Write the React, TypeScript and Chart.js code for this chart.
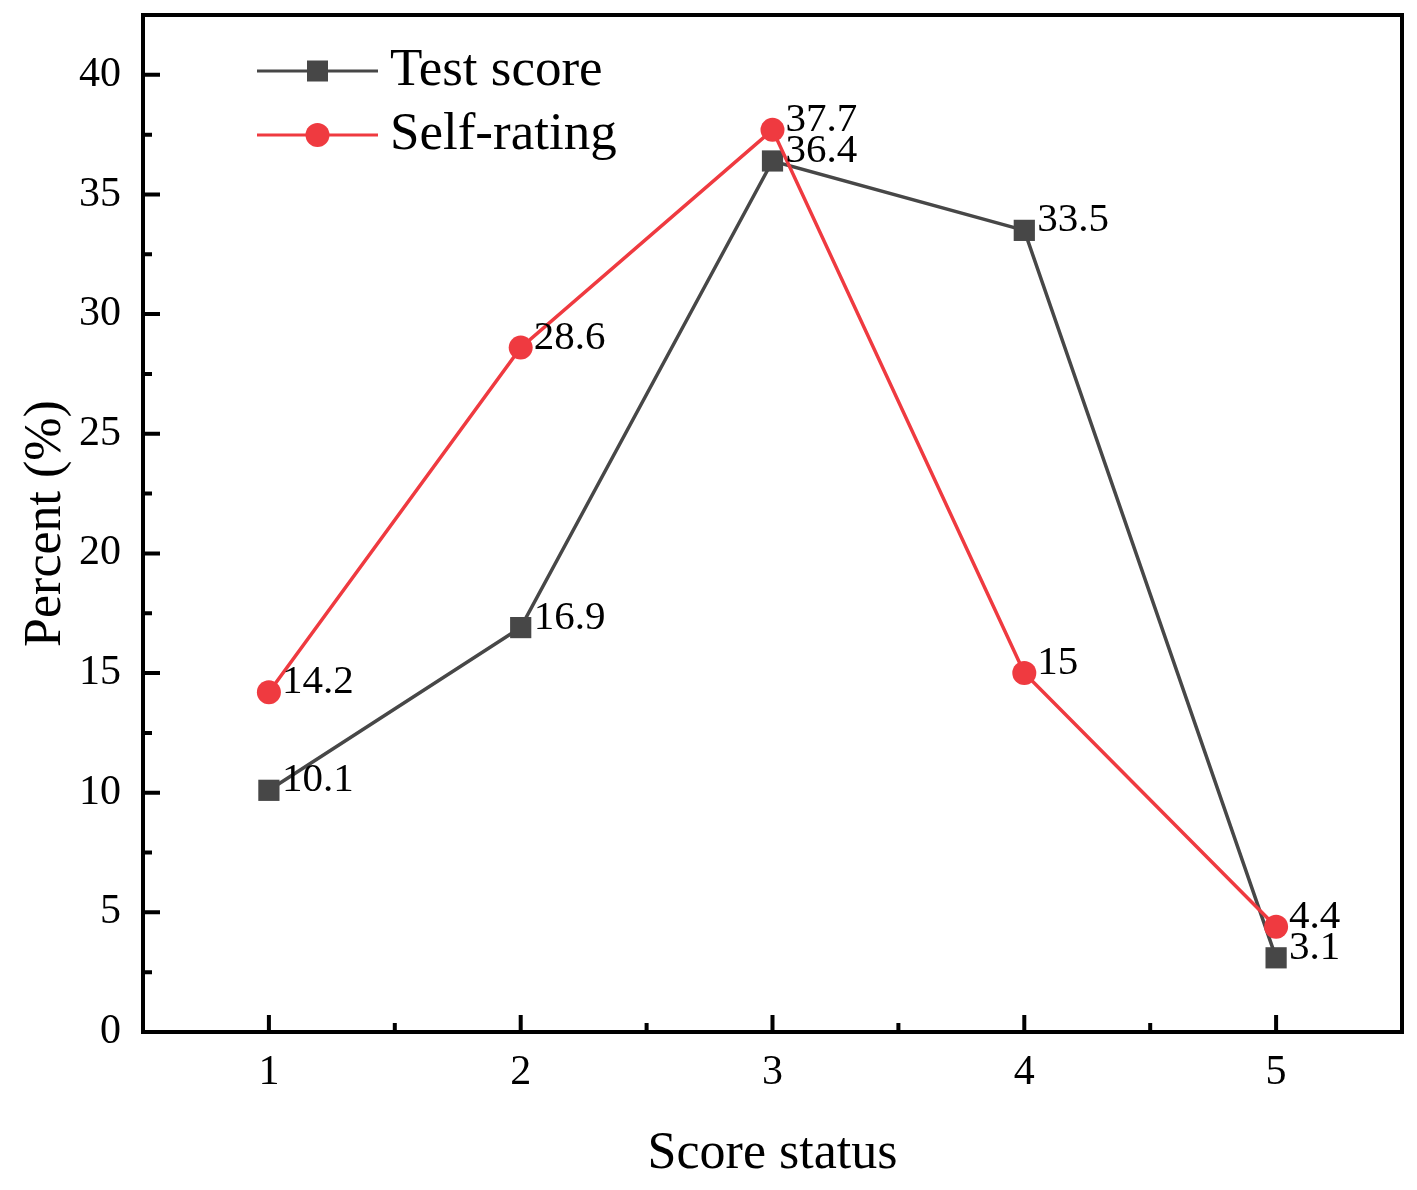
import { useEffect, useRef } from "react"
import { Chart, registerables } from "chart.js"

Chart.register(...registerables)

// Data
const scoreStatus = [1, 2, 3, 4, 5]
const testScore = [10.1, 16.9, 36.4, 33.5, 3.1]
const selfRating = [14.2, 28.6, 37.7, 15, 4.4]

// Axis ticks
const yMajorTicks = [0, 5, 10, 15, 20, 25, 30, 35, 40]
const yMinorTicks = [2.5, 7.5, 12.5, 17.5, 22.5, 27.5, 32.5, 37.5]
const xMajorTicks = [1, 2, 3, 4, 5]
const xMinorTicks = [1.5, 2.5, 3.5, 4.5]

const GRAY = "#474747"
const RED = "#ef3a40"
const FONT = "'Liberation Serif', 'Times New Roman', serif"

// Origin-style box with inward ticks
const framePlugin = {
  id: "frame",
  afterDraw(chart: any) {
    const { ctx, chartArea: a, scales } = chart
    ctx.save()
    ctx.strokeStyle = "#000"
    ctx.lineWidth = 4
    ctx.lineCap = "butt"
    ctx.beginPath()
    yMajorTicks.forEach((v) => {
      const y = scales.y.getPixelForValue(v)
      ctx.moveTo(a.left, y)
      ctx.lineTo(a.left + 17, y)
    })
    yMinorTicks.forEach((v) => {
      const y = scales.y.getPixelForValue(v)
      ctx.moveTo(a.left, y)
      ctx.lineTo(a.left + 9, y)
    })
    xMajorTicks.forEach((v) => {
      const x = scales.x.getPixelForValue(v)
      ctx.moveTo(x, a.bottom)
      ctx.lineTo(x, a.bottom - 17)
    })
    xMinorTicks.forEach((v) => {
      const x = scales.x.getPixelForValue(v)
      ctx.moveTo(x, a.bottom)
      ctx.lineTo(x, a.bottom - 9)
    })
    ctx.stroke()
    ctx.strokeRect(a.left, a.top, a.right - a.left, a.bottom - a.top)
    ctx.restore()
  },
}

// value labels to the right of each point
const valueLabelPlugin = {
  id: "valueLabels",
  afterDatasetsDraw(chart: any) {
    const { ctx } = chart
    ctx.save()
    ctx.fillStyle = "#000"
    ctx.font = `41px ${FONT}`
    ctx.textAlign = "left"
    ctx.textBaseline = "alphabetic"
    chart.data.datasets.forEach((ds: any, i: number) => {
      const meta = chart.getDatasetMeta(i)
      meta.data.forEach((pt: any, j: number) => {
        ctx.fillText(String(ds.data[j].y), pt.x + 13, pt.y + 1)
      })
    })
    ctx.restore()
  },
}

// legend with line + marker, like Origin
const lineLegendPlugin = {
  id: "lineLegend",
  afterDraw(chart: any) {
    const { ctx } = chart
    ctx.save()
    chart.data.datasets.forEach((ds: any, i: number) => {
      const y = 71 + i * 64
      const x0 = 257
      const x1 = 378
      const cx = (x0 + x1) / 2
      ctx.strokeStyle = ds.borderColor
      ctx.lineWidth = 3
      ctx.beginPath()
      ctx.moveTo(x0, y)
      ctx.lineTo(x1, y)
      ctx.stroke()
      ctx.fillStyle = ds.pointBackgroundColor
      if (ds.pointStyle === "rect") {
        ctx.fillRect(cx - 10.5, y - 10.5, 21, 21)
      } else {
        ctx.beginPath()
        ctx.arc(cx, y, 12, 0, Math.PI * 2)
        ctx.fill()
      }
      ctx.fillStyle = "#000"
      ctx.font = `53px ${FONT}`
      ctx.textAlign = "left"
      ctx.textBaseline = "middle"
      ctx.fillText(ds.label, 390, y)
    })
    ctx.restore()
  },
}

export default function App() {
  const chartRef = useRef<HTMLCanvasElement>(null)
  const chartInstance = useRef<Chart | null>(null)

  useEffect(() => {
    document.body.style.margin = "0"
    if (!chartRef.current) return
    const ctx = chartRef.current.getContext("2d")
    if (!ctx) return

    if (chartInstance.current) {
      chartInstance.current.destroy()
    }

    chartInstance.current = new Chart(ctx, {
      type: "line",
      data: {
        datasets: [
          {
            label: "Test score",
            data: scoreStatus.map((x, i) => ({ x, y: testScore[i] })),
            borderColor: GRAY,
            backgroundColor: GRAY,
            pointBackgroundColor: GRAY,
            pointStyle: "rect",
            pointRadius: 15,
            pointBorderWidth: 0,
            borderWidth: 3.5,
            tension: 0,
            order: 2,
          },
          {
            label: "Self-rating",
            data: scoreStatus.map((x, i) => ({ x, y: selfRating[i] })),
            borderColor: RED,
            backgroundColor: RED,
            pointBackgroundColor: RED,
            pointStyle: "circle",
            pointRadius: 12,
            pointBorderWidth: 0,
            borderWidth: 3.5,
            tension: 0,
            order: 1,
          },
        ],
      },
      options: {
        responsive: true,
        maintainAspectRatio: false,
        animation: false,
        layout: { padding: { top: 15, right: 14, left: 0, bottom: 0 } },
        plugins: {
          legend: { display: false },
          tooltip: { enabled: false },
        },
        scales: {
          x: {
            type: "linear",
            min: 0.5,
            max: 5.5,
            afterBuildTicks: (s: any) => {
              s.ticks = xMajorTicks.map((v) => ({ value: v }))
            },
            afterFit: (s: any) => {
              s.height = 158
              s.paddingLeft = 0
              s.paddingRight = 0
            },
            grid: { display: false, drawTicks: false },
            border: { display: false },
            ticks: {
              color: "#000",
              autoSkip: false,
              maxRotation: 0,
              padding: 16,
              font: { family: FONT, size: 42, lineHeight: 1.2 },
            },
            title: {
              display: true,
              text: "Score status",
              color: "#000",
              font: { family: FONT, size: 52, lineHeight: 1.2 },
              padding: { top: 0, bottom: 4 },
            },
          },
          y: {
            type: "linear",
            min: 0,
            max: 42.5,
            afterBuildTicks: (s: any) => {
              s.ticks = yMajorTicks.map((v) => ({ value: v }))
            },
            afterFit: (s: any) => {
              s.width = 143
              s.paddingTop = 0
              s.paddingBottom = 0
            },
            grid: { display: false, drawTicks: false },
            border: { display: false },
            ticks: {
              color: "#000",
              autoSkip: false,
              padding: 22,
              font: { family: FONT, size: 42, lineHeight: 1.2 },
            },
            title: {
              display: true,
              text: "Percent (%)",
              color: "#000",
              font: { family: FONT, size: 52, lineHeight: 1.2 },
              padding: { top: 15, bottom: 0 },
            },
          },
        },
      },
      plugins: [framePlugin, valueLabelPlugin, lineLegendPlugin],
    })

    return () => {
      if (chartInstance.current) {
        chartInstance.current.destroy()
        chartInstance.current = null
      }
    }
  }, [])

  return (
    <div style={{ width: 1417, height: 1190, background: "#fff" }}>
      <canvas ref={chartRef} />
    </div>
  )
}
